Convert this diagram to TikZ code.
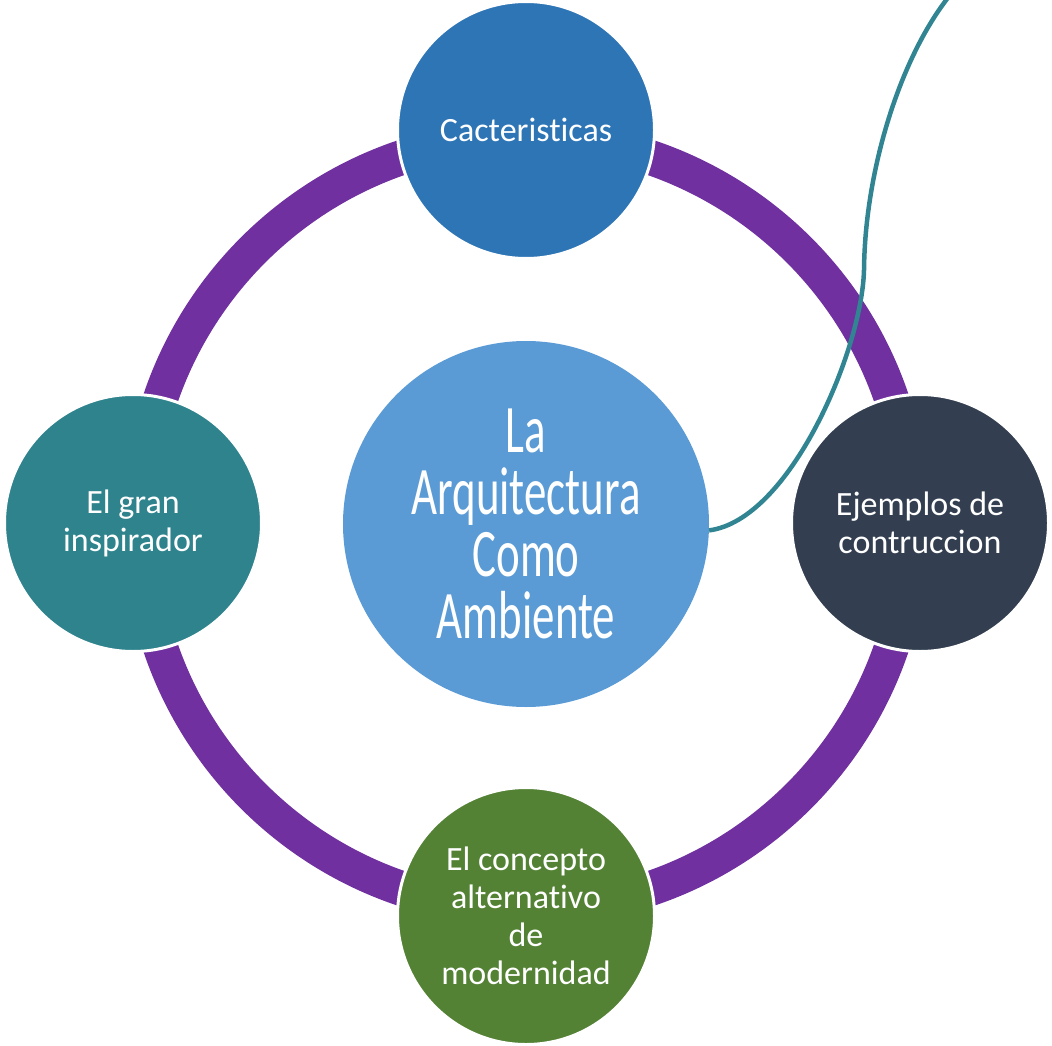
\documentclass[tikz,border=0pt]{standalone}
\usepackage{fontspec}
\setmainfont[Ligatures=NoCommon]{Carlito}
\newfontfamily\agencyfont[FakeStretch=0.66,Ligatures=NoCommon]{Carlito}
\definecolor{ringpurple}{HTML}{7030A0}
\definecolor{topblue}{HTML}{2E75B6}
\definecolor{midblue}{HTML}{5B9BD5}
\definecolor{leftteal}{RGB}{46,131,141}
\definecolor{rightslate}{HTML}{333F50}
\definecolor{botgreen}{HTML}{548235}
\definecolor{lineteal}{RGB}{49,133,146}
\tikzset{
  outer/.style={circle, draw=white, line width=3pt, minimum size=257pt, inner sep=0pt,
    text=white, align=center, font=\fontsize{34}{38}\selectfont},
}
\begin{document}
\begin{tikzpicture}[x=1pt,y=-1pt]
\useasboundingbox (0,0) rectangle (1052,1046);
\node[circle, draw=ringpurple, line width=35pt, minimum size=772pt, inner sep=0pt] (ring) at (526,523) {};
\node[outer, fill=topblue] (top) at (526,130) {Cacteristicas};
\node[outer, fill=leftteal] (left) at (133,523) {El gran\\inspirador};
\node[outer, fill=rightslate] (right) at (920,523) {Ejemplos de\\contruccion};
\node[outer, fill=botgreen] (bottom) at (526,916) {El concepto\\alternativo\\de\\modernidad};
\node[circle, fill=midblue, minimum size=366pt, inner sep=0pt, text=white, align=center,
  font=\agencyfont\fontsize{68}{62}\selectfont] (center) at (526,524) {La\\Arquitectura\\Como\\Ambiente};
\coordinate (lineend) at (947,-1);
\draw[lineteal, line width=4.5pt] (center.-2.8) .. controls (790,520) and (862,350) .. (864,270)
  .. controls (865,170) and (900,60) .. (lineend);
\end{tikzpicture}
\end{document}
